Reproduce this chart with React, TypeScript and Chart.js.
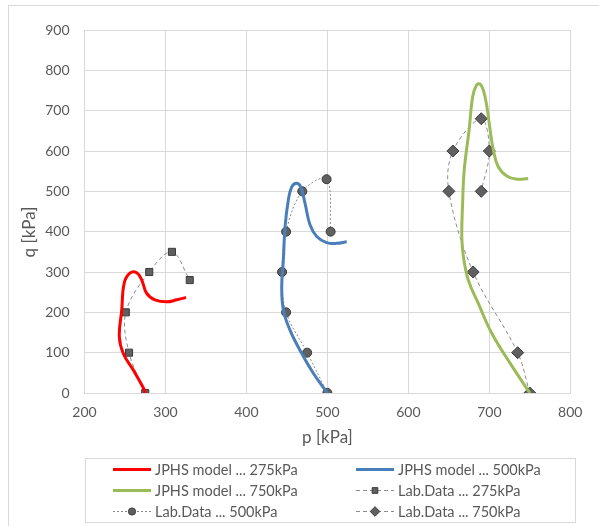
import React, { useEffect, useRef } from "react";
import { Chart, registerables } from "chart.js";

Chart.register(...registerables);

// ---- Data ----
const model275P = [275, 272.6, 260.3, 247.9, 243, 246, 249, 256, 264.5, 270.7, 276.8, 287, 301.5, 314, 325.4];
const model275Q = [0, 13, 57, 98, 140, 206, 272, 297, 298, 280, 247, 231, 226, 231, 237];

const model500P = [500, 482.6, 468.3, 453.8, 445.6, 443.6, 445.6, 447.7, 451.7, 456, 462, 467, 472.4, 478.5, 486.8, 499, 511.5, 523.9];
const model500Q = [0, 49, 98, 156, 206, 264, 330, 412, 478, 511, 520, 511, 470, 417, 388, 373, 371, 375];

const model750P = [750, 725.6, 703, 686.4, 674, 668, 666, 667, 669, 675, 679.5, 684.4, 688.5, 692.6, 697, 701, 705, 711, 721.5, 734, 748];
const model750Q = [0, 74, 148, 222, 280, 338, 388, 470, 553, 652, 735, 764, 766, 751, 710, 652, 602, 561, 538, 530, 532];

const lab275P = [275, 255, 251, 280, 308, 330];
const lab275Q = [0, 100, 200, 300, 350, 280];

const lab500P = [500, 475, 449, 444, 449, 469, 499, 504];
const lab500Q = [0, 100, 200, 300, 400, 500, 530, 400];

const lab750P = [750, 735, 680, 650, 655, 690, 700, 690];
const lab750Q = [0, 100, 300, 500, 600, 680, 600, 500];

const seriesLabels = [
  "JPHS model ... 275kPa",
  "JPHS model ... 500kPa",
  "JPHS model ... 750kPa",
  "Lab.Data ... 275kPa",
  "Lab.Data ... 500kPa",
  "Lab.Data ... 750kPa",
];

const xTitle = "p [kPa]";
const yTitle = "q [kPa]";

const FONT = "Lato, 'Noto Sans', sans-serif";
const TEXT = "#595959";
const GRID = "#d9d9d9";

const zip = (xs: number[], ys: number[]) => xs.map((x, i) => ({ x, y: ys[i] }));

const extrasPlugin = {
  id: "extras",
  afterDraw(chart: any) {
    const ctx: CanvasRenderingContext2D = chart.ctx;
    ctx.save();
    // outer chart border
    ctx.strokeStyle = GRID;
    ctx.lineWidth = 1;
    ctx.setLineDash([]);
    ctx.strokeRect(8.5, 5.5, 640, 640);

    // y axis title
    ctx.fillStyle = TEXT;
    ctx.font = `17px ${FONT}`;
    ctx.textAlign = "center";
    ctx.textBaseline = "middle";
    ctx.save();
    ctx.translate(30, 232);
    ctx.rotate(-Math.PI / 2);
    ctx.fillText(yTitle, 0, 0);
    ctx.restore();

    // legend box
    ctx.strokeStyle = GRID;
    ctx.strokeRect(85.5, 458.5, 490, 64);
    const cols = [113, 356];
    const rows = [469, 490, 511];
    chart.data.datasets.forEach((ds: any, i: number) => {
      const cx = cols[i % 2];
      const cy = rows[Math.floor(i / 2)];
      ctx.save();
      ctx.strokeStyle = ds.borderColor;
      ctx.lineWidth = ds.borderWidth;
      ctx.setLineDash(ds.borderDash || []);
      ctx.beginPath();
      ctx.moveTo(cx, cy + 0.5);
      ctx.lineTo(cx + 38, cy + 0.5);
      ctx.stroke();
      ctx.setLineDash([]);
      if (ds.pointRadius > 0) {
        const mx = cx + 19;
        const my = cy + 0.5;
        const r = ds.pointRadius * 0.8;
        ctx.fillStyle = ds.pointBackgroundColor;
        ctx.strokeStyle = ds.pointBorderColor;
        ctx.lineWidth = 1;
        ctx.beginPath();
        if (ds.pointStyle === "circle") {
          ctx.arc(mx, my, r, 0, Math.PI * 2);
        } else if (ds.pointStyle === "rect") {
          const s = r * Math.SQRT1_2;
          ctx.rect(mx - s, my - s, 2 * s, 2 * s);
        } else {
          ctx.moveTo(mx - r, my);
          ctx.lineTo(mx, my - r);
          ctx.lineTo(mx + r, my);
          ctx.lineTo(mx, my + r);
          ctx.closePath();
        }
        ctx.fill();
        ctx.stroke();
      }
      ctx.restore();
      ctx.fillStyle = TEXT;
      ctx.font = `14.5px ${FONT}`;
      ctx.textAlign = "left";
      ctx.textBaseline = "middle";
      ctx.fillText(ds.label, cx + 42, cy + 1);
    });
    ctx.restore();
  },
};

export default function App() {
  const ref = useRef<HTMLCanvasElement | null>(null);

  useEffect(() => {
    if (!ref.current) return;
    const modelDs = (label: string, xs: number[], ys: number[], color: string) => ({
      label,
      data: zip(xs, ys),
      showLine: true,
      borderColor: color,
      backgroundColor: color,
      borderWidth: 3,
      pointRadius: 0,
      tension: 0.4,
    });
    const labDs = (label: string, xs: number[], ys: number[], style: string, r: number, dash: number[]) => ({
      label,
      data: zip(xs, ys),
      showLine: true,
      borderColor: "#8c8c8c",
      backgroundColor: "#595959",
      borderWidth: 1,
      borderDash: dash,
      pointStyle: style,
      pointRadius: r,
      pointBackgroundColor: "#606060",
      pointBorderColor: "#3a3a3a",
      pointBorderWidth: 1,
      tension: 0.35,
    });

    const chart = new Chart(ref.current, {
      type: "scatter",
      data: {
        datasets: [
          modelDs(seriesLabels[0], model275P, model275Q, "#ff0000"),
          modelDs(seriesLabels[1], model500P, model500Q, "#4a7ebb"),
          modelDs(seriesLabels[2], model750P, model750Q, "#9bbb59"),
          labDs(seriesLabels[3], lab275P, lab275Q, "rect", 5, [4, 3]),
          labDs(seriesLabels[4], lab500P, lab500Q, "circle", 4.5, [2, 2]),
          labDs(seriesLabels[5], lab750P, lab750Q, "rectRot", 6, [4, 3]),
        ] as any,
      },
      options: {
        animation: false,
        responsive: false,
        devicePixelRatio: 1,
        layout: { padding: { left: 0, top: 30, right: 28.7, bottom: 74 } },
        plugins: {
          legend: { display: false },
          tooltip: { enabled: false },
        },
        scales: {
          x: {
            type: "linear",
            min: 200,
            max: 800,
            afterFit: (s: any) => {
              s.height = 59;
            },
            ticks: { stepSize: 100, color: TEXT, font: { family: FONT, size: 14 }, padding: 11 },
            grid: { color: GRID, drawTicks: false },
            border: { color: GRID },
            title: { display: true, text: xTitle, color: TEXT, font: { family: FONT, size: 17 } },
          },
          y: {
            type: "linear",
            min: 0,
            max: 900,
            afterFit: (s: any) => {
              s.width = 84.5;
            },
            ticks: { stepSize: 100, color: TEXT, font: { family: FONT, size: 14 }, padding: 15 },
            grid: { color: GRID, drawTicks: false },
            border: { color: GRID },
          },
        },
      } as any,
      plugins: [extrasPlugin as any],
    });
    return () => chart.destroy();
  }, []);

  return (
    <div style={{ position: "fixed", left: 0, top: 0, width: 599, height: 526, background: "#fff" }}>
      <canvas ref={ref} width={599} height={526} style={{ display: "block" }} />
    </div>
  );
}
